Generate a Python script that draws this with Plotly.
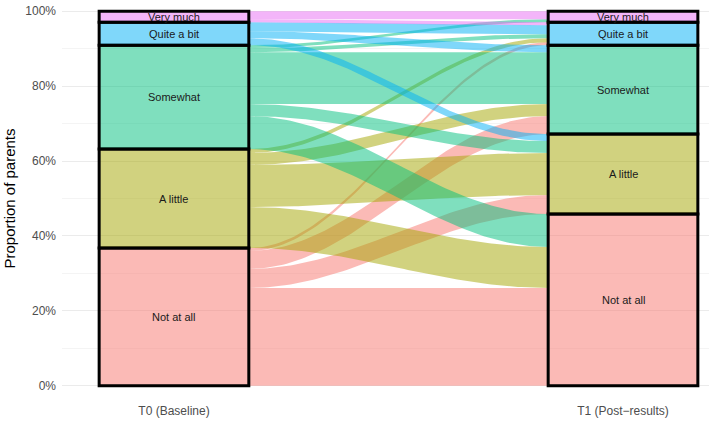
import numpy as np
import plotly.graph_objects as go

# ---- data ----
levels = ["Not at all", "A little", "Somewhat", "Quite a bit", "Very much"]  # bottom -> top
colors = ["#F8766D", "#A3A500", "#00BF7D", "#00B0F6", "#E76BF3"]
time_labels = ["T0 (Baseline)", "T1 (Post\u2212results)"]
# counts: rows = baseline (T0) response, cols = post-results (T1) response
flow_NaA = [98, 19, 18, 3, 0]
flow_AL = [41, 42, 12, 4, 0]
flow_Som = [33, 12, 52, 4, 3]
flow_QaB = [0, 7, 7, 9, 0]
flow_VM = [0, 0, 0, 3, 8]

M = np.array([flow_NaA, flow_AL, flow_Som, flow_QaB, flow_VM], dtype=float)
M = M / M.sum()
n = len(levels)


def rgba(h, a):
    h = h.lstrip("#")
    return "rgba(%d,%d,%d,%.2f)" % (int(h[0:2], 16), int(h[2:4], 16), int(h[4:6], 16), a)


tot0 = M.sum(axis=1)
tot1 = M.sum(axis=0)
base0 = np.concatenate([[0], np.cumsum(tot0)[:-1]])
base1 = np.concatenate([[0], np.cumsum(tot1)[:-1]])

W = 1 / 3
x0, x1 = 1 + W / 2, 2 - W / 2

fig = go.Figure()

# flow positions
pos0 = {}
for i in range(n):
    b = base0[i]
    for j in range(n):
        pos0[(i, j)] = (b, b + M[i, j])
        b += M[i, j]
pos1 = {}
for j in range(n):
    b = base1[j]
    for i in range(n):
        pos1[(i, j)] = (b, b + M[i, j])
        b += M[i, j]

t = np.linspace(0, 1, 80)
s = (1 - np.cos(np.pi * t)) / 2
xs = x0 + (x1 - x0) * t
for i in range(n):
    for j in range(n):
        if M[i, j] <= 0:
            continue
        lo0, hi0 = pos0[(i, j)]
        lo1, hi1 = pos1[(i, j)]
        top = hi0 + (hi1 - hi0) * s
        bot = lo0 + (lo1 - lo0) * s
        fig.add_trace(go.Scatter(
            x=np.concatenate([xs, xs[::-1]]),
            y=np.concatenate([top, bot[::-1]]),
            fill="toself", fillcolor=rgba(colors[i], 0.5),
            mode="lines", line=dict(width=0), hoverinfo="skip", showlegend=False))

# strata
annotations = []
for k, (tots, bases) in enumerate([(tot0, base0), (tot1, base1)]):
    xc = k + 1
    for i in range(n):
        fig.add_shape(type="rect", xref="x", yref="y",
                      x0=xc - W / 2, x1=xc + W / 2, y0=bases[i], y1=bases[i] + tots[i],
                      fillcolor=rgba(colors[i], 0.5), line=dict(color="black", width=3),
                      layer="above")
        annotations.append(dict(x=xc, y=bases[i] + tots[i] / 2, xref="x", yref="y",
                                text=levels[i], showarrow=False,
                                font=dict(size=11, color="#1a1a1a")))

fig.update_layout(
    width=709, height=427,
    margin=dict(l=62, r=0, t=9, b=39),
    plot_bgcolor="white", paper_bgcolor="white",
    font=dict(family="Liberation Sans, Arial, sans-serif"),
    annotations=annotations,
    showlegend=False,
)
fig.update_xaxes(range=[0.7506, 2.1915], tickvals=[1, 2], ticktext=time_labels,
                 showgrid=False, zeroline=False, showline=False, ticks="",
                 automargin=False,
                 tickfont=dict(size=12, color="#4D4D4D"), ticklabelstandoff=14)
fig.update_yaxes(range=[-0.006, 1.006], tickvals=[0, 0.2, 0.4, 0.6, 0.8, 1.0],
                 tickformat=".0%", showgrid=True, gridcolor="#EBEBEB", gridwidth=1.1,
                 minor=dict(tickvals=[0.1, 0.3, 0.5, 0.7, 0.9], showgrid=True,
                            gridcolor="#F4F4F4", gridwidth=0.6),
                 zeroline=False, showline=False, ticks="", automargin=False,
                 tickfont=dict(size=12, color="#4D4D4D"), ticklabelstandoff=5,
                 title=dict(text="Proportion of parents", font=dict(size=15, color="black"),
                            standoff=6))

fig.write_html("out.html", config={"displayModeBar": False},
               post_script="document.body.style.margin='0';document.body.style.overflow='hidden';")
